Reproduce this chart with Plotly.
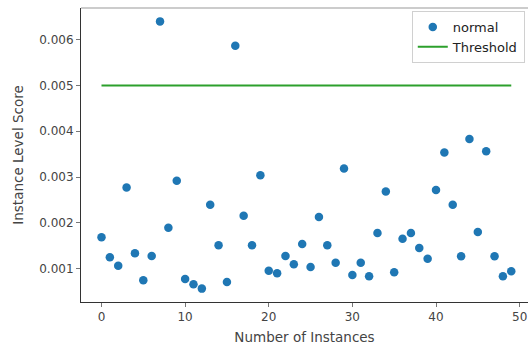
import plotly.graph_objects as go

instances = list(range(50))
scores = [
    0.001684, 0.001248, 0.001065, 0.002773, 0.001335, 0.000747, 0.001277, 0.006397,
    0.001893, 0.002917, 0.000776, 0.000660, 0.000564, 0.002394, 0.001510, 0.000710,
    0.005867, 0.002155, 0.001510, 0.003041, 0.000956, 0.000900, 0.001277, 0.001096,
    0.001538, 0.001037, 0.002126, 0.001510, 0.001131, 0.003187, 0.000863, 0.001131,
    0.000834, 0.001778, 0.002686, 0.000922, 0.001654, 0.001778, 0.001451, 0.001218,
    0.002715, 0.003536, 0.002394, 0.001270, 0.003832, 0.001800, 0.003564, 0.001270,
    0.000834, 0.000943,
]
threshold = 0.005
y_ticks = [0.001, 0.002, 0.003, 0.004, 0.005, 0.006]
x_ticks = [0, 10, 20, 30, 40, 50]

font_family = "DejaVu Sans"
text_col = "#444444"

fig = go.Figure()
fig.add_trace(go.Scatter(
    x=instances, y=scores, mode="markers", name="normal",
    marker=dict(color="#1f77b4", size=8.5, line=dict(width=0)),
))
fig.add_trace(go.Scatter(
    x=[instances[0], instances[-1]], y=[threshold, threshold], mode="lines",
    name="Threshold", line=dict(color="#2ca02c", width=2),
))

fig.update_layout(
    width=528, height=346,
    margin=dict(l=80.5, r=0, t=7.6, b=44, pad=0),
    paper_bgcolor="white", plot_bgcolor="white",
    font=dict(family=font_family, color=text_col, size=12.5),
    showlegend=True,
    legend=dict(
        x=0.74, y=0.99, xanchor="left", yanchor="top",
        bordercolor="#d0d0d0", borderwidth=1, bgcolor="rgba(255,255,255,0.8)",
        font=dict(size=13, color="#222"), itemwidth=30,
    ),
    xaxis=dict(
        range=[-2.45, 51.0], tickvals=x_ticks, ticktext=[str(v) for v in x_ticks],
        showgrid=False, zeroline=False, showline=True, linecolor="#333", linewidth=1,
        ticks="outside", ticklen=4, tickcolor="#777", tickwidth=1,
        tickfont=dict(size=12, color=text_col),
        title=dict(text="Number of Instances", font=dict(size=13.5, color=text_col), standoff=9),
    ),
    yaxis=dict(
        range=[0.000272, 0.006689], tickvals=y_ticks, ticktext=[f"{v:.3f}" for v in y_ticks],
        showgrid=False, zeroline=False, showline=True, linecolor="#333", linewidth=1,
        ticks="outside", ticklen=4, tickcolor="#777", tickwidth=1,
        tickfont=dict(size=12, color=text_col),
        title=dict(text="Instance Level Score", font=dict(size=13.5, color=text_col), standoff=12),
    ),
    shapes=[dict(type="line", xref="paper", yref="paper", x0=0, x1=1, y0=1, y1=1,
                 line=dict(color="#999", width=1))],
)

fig.write_html("out.html")
